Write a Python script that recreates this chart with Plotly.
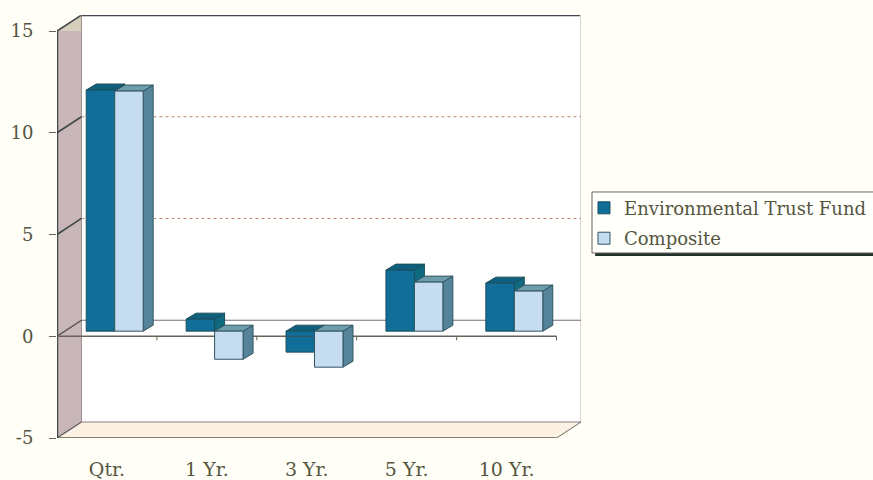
import plotly.graph_objects as go

# Period returns (%) for each series
categories = ["Qtr.", "1 Yr.", "3 Yr.", "5 Yr.", "10 Yr."]
fund_values = [11.85, 0.59, -1.03, 3.0, 2.36]
composite_values = [11.8, -1.38, -1.77, 2.41, 1.97]
value_ticks = [-5, 0, 5, 10, 15]
value_labels = ["-5", "0", "5", "10", "15"]
gridline_values = [5, 10]

SERIF = "DejaVu Serif"
TEXT = "#55553f"
PAGE = "#fffef7"

# Oblique projection of the chart box: depth expressed in axis units
BOX_DX, BOX_DY = 0.245, 0.787
BAR_DX, BAR_DY = 0.10, 0.295
BAR_BASE = 0.25
BAR_W = 0.285
X_MIN, X_MAX = 0, len(categories)
Y_MIN, Y_MAX = value_ticks[0], value_ticks[-1]


def poly(points, fill, line="rgba(0,0,0,0)", width=0, layer="below"):
    path = "M" + " L".join(f"{x:.4f},{y:.4f}" for x, y in points) + " Z"
    return dict(type="path", path=path, xref="x", yref="y", fillcolor=fill,
                line=dict(color=line, width=width), layer=layer)


def seg(x0, y0, x1, y1, color, width=1, dash="solid", layer="below"):
    return dict(type="line", x0=x0, y0=y0, x1=x1, y1=y1, xref="x", yref="y",
                line=dict(color=color, width=width, dash=dash), layer=layer)


shapes = [
    # back wall, floor, side wall
    poly([(BOX_DX, Y_MIN + BOX_DY), (X_MAX + BOX_DX, Y_MIN + BOX_DY),
          (X_MAX + BOX_DX, Y_MAX + BOX_DY), (BOX_DX, Y_MAX + BOX_DY)], "#ffffff"),
    poly([(X_MIN, Y_MIN), (BOX_DX, Y_MIN + BOX_DY),
          (X_MAX + BOX_DX, Y_MIN + BOX_DY), (X_MAX, Y_MIN)], "#fdf1e4"),
    poly([(X_MIN, Y_MIN), (BOX_DX, Y_MIN + BOX_DY), (BOX_DX, Y_MAX), (X_MIN, Y_MAX)],
         "#c9b6b8"),
    poly([(X_MIN, Y_MAX), (BOX_DX, Y_MAX + BOX_DY), (BOX_DX, Y_MAX)], "#d6cfbd"),
    # box outline
    seg(BOX_DX, Y_MAX + BOX_DY, X_MAX + BOX_DX, Y_MAX + BOX_DY, "#4a4350", 2.5),
    seg(X_MIN, Y_MAX, BOX_DX, Y_MAX + BOX_DY, "#4a4a4a", 1.5),
    seg(BOX_DX, Y_MIN + BOX_DY, BOX_DX, Y_MAX + BOX_DY, "#9a9090", 1),
    seg(X_MAX + BOX_DX, Y_MIN + BOX_DY, X_MAX + BOX_DX, Y_MAX + BOX_DY, "#d8d4c8", 2),
    seg(BOX_DX, Y_MIN + BOX_DY, X_MAX + BOX_DX, Y_MIN + BOX_DY, "#8a7f88", 1.2),
    seg(X_MIN, Y_MIN, X_MAX, Y_MIN, "#5c5a48", 1.5),
    seg(X_MIN, Y_MIN, BOX_DX, Y_MIN + BOX_DY, "#5c5a58", 1.2),
    seg(X_MAX, Y_MIN, X_MAX + BOX_DX, Y_MIN + BOX_DY, "#6c6a58", 1),
    seg(X_MIN, Y_MIN, X_MIN, Y_MAX, "#3f4a4c", 2.5),
]

# dotted gridlines on the back wall with their links across the side wall
for v in gridline_values:
    shapes.append(seg(BOX_DX, v + BOX_DY, X_MAX + BOX_DX, v + BOX_DY, "#c08a70", 1.2, "dot"))
    shapes.append(seg(X_MIN, v, BOX_DX, v + BOX_DY, "#3f4648", 1.5))

# zero plane: back edge, link and front axis with its category ticks
shapes.append(seg(BOX_DX, BOX_DY, X_MAX + BOX_DX, BOX_DY, "#7a6c7a", 1.2))
shapes.append(seg(X_MIN, 0, BOX_DX, BOX_DY, "#4a4a48", 1.3))
shapes.append(seg(X_MIN, 0, X_MAX, 0, "#6a6258", 1.3))
for i in range(1, len(categories) + 1):
    shapes.append(seg(i, 0, i, -0.2, "#6a6258", 1))

fund_offset, comp_offset = 0.435, 0.72
fund_x = [i + fund_offset for i in range(len(categories))]
comp_x = [i + comp_offset for i in range(len(categories))]


def faces(cx, value, top_color, side_color, edge):
    left, right = cx - BAR_W / 2, cx + BAR_W / 2
    low, high = sorted((BAR_BASE, BAR_BASE + value))
    return [
        poly([(right, low), (right + BAR_DX, low + BAR_DY),
              (right + BAR_DX, high + BAR_DY), (right, high)], side_color, edge, 1),
        poly([(left, high), (left + BAR_DX, high + BAR_DY),
              (right + BAR_DX, high + BAR_DY), (right, high)], top_color, edge, 1),
    ]


# side and top faces sit underneath the front faces, which are the bar traces
for cx, v in zip(fund_x, fund_values):
    shapes += faces(cx, v, "#0f5f7e", "#0f6a80", "#1d4f5c")
for cx, v in zip(comp_x, composite_values):
    shapes += faces(cx, v, "#6d9cab", "#55849a", "#2f5560")

# the front axis reads through short bars that hang below it
for cx, v in zip(fund_x, fund_values):
    if v < 0:
        shapes.append(seg(cx - BAR_W / 2, 0, cx + BAR_W / 2, 0, "#34505c", 1, layer="above"))

# legend frame and its drop shadow, placed in plot-fraction units
shapes += [
    dict(type="rect", xref="paper", yref="paper", x0=1.027, x1=1.56, y0=0.4303, y1=0.4374,
         fillcolor="#20302c", line=dict(width=0), layer="below"),
    dict(type="rect", xref="paper", yref="paper", x0=1.021, x1=1.56, y0=0.4374, y1=0.5816,
         fillcolor="#fffffc", line=dict(color="#6a6458", width=1), layer="below"),
]

fig = go.Figure()
fig.add_bar(x=fund_x, y=fund_values, base=BAR_BASE, width=BAR_W,
            name="Environmental Trust Fund", legendgroup="fund",
            marker=dict(color="#106e98", line=dict(color="#1d4f5c", width=1)))
fig.add_bar(x=comp_x, y=composite_values, base=BAR_BASE, width=BAR_W,
            name="Composite", legendgroup="comp",
            marker=dict(color="#c6dcf0", line=dict(color="#2f5560", width=1)))

fig.update_layout(
    width=873, height=480,
    margin=dict(l=57, r=292, t=15, b=42, autoexpand=False),
    paper_bgcolor=PAGE, plot_bgcolor=PAGE,
    barmode="overlay", shapes=shapes,
    font=dict(family=SERIF, color=TEXT, size=16),
    legend=dict(x=1.0057, xanchor="left", y=0.508, yanchor="middle",
                bgcolor="rgba(0,0,0,0)", borderwidth=0, traceorder="grouped",
                tracegroupgap=4, font=dict(family=SERIF, size=18, color=TEXT)),
    xaxis=dict(range=[X_MIN, X_MAX + BOX_DX], tickvals=[i + 0.5 for i in range(len(categories))],
               ticktext=categories, showgrid=False, zeroline=False, showline=False,
               automargin=False, ticks="outside", ticklen=14, tickcolor="rgba(0,0,0,0)",
               tickfont=dict(family=SERIF, size=19, color=TEXT)),
    yaxis=dict(range=[Y_MIN, Y_MAX + BOX_DY], tickvals=value_ticks, ticktext=value_labels,
               showgrid=False, zeroline=False, showline=False, automargin=False,
               ticks="outside", ticklen=7, tickcolor="#6a6458", ticklabelstandoff=12,
               tickfont=dict(family=SERIF, size=18, color=TEXT)),
)

fig.write_html("out.html")
